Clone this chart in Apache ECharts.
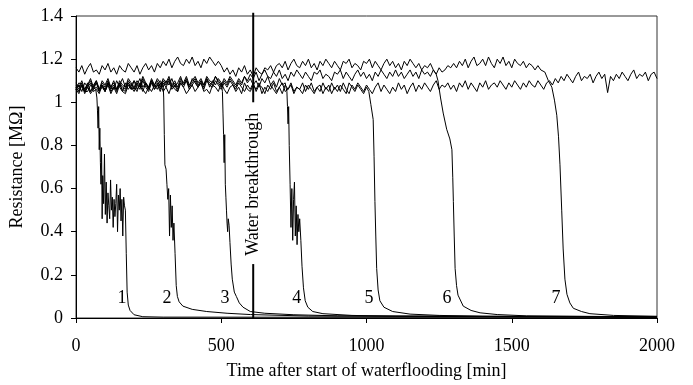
<!DOCTYPE html>
<html>
<head>
<meta charset="utf-8">
<script src="https://cdn.jsdelivr.net/npm/echarts@6/dist/echarts.min.js"></script>
<style>
  html, body { margin: 0; padding: 0; background: #fff; }
  #chart { width: 693px; height: 385px; }
</style>
</head>
<body>
<div id="chart"></div>
<script>
// sampling step of the plateau readings, minutes
const stepMin = 10;

// plateau readings [MΩ] from t = 0 every stepMin, then the drop as [min, MΩ]
const plateau1 = [1.06,1.09,1.08,1.05,1.05,1.08,1.07];
const drop1 = [[68,1.06],[72,1.02],[74,0.96],[76,0.88],[78,0.98],[80,0.78],[82,0.88],[84,0.72],[86,0.62],[88,0.79],[90,0.46],[92,0.66],[95,0.53],[98,0.76],[101,0.48],[104,0.63],[107,0.44],[110,0.58],[113,0.52],[116,0.46],[119,0.64],[122,0.5],[125,0.56],[128,0.42],[131,0.55],[134,0.47],[137,0.53],[140,0.62],[143,0.4],[146,0.57],[149,0.5],[152,0.6],[155,0.45],[158,0.55],[161,0.38],[164,0.56],[167,0.52],[170,0.5],[173,0.3],[176,0.12],[180,0.06],[186,0.035],[200,0.015],[230,0.006],[300,0.004],[2000,0.003]];

const plateau2 = [1.07,1.05,1.08,1.06,1.09,1.05,1.07,1.10,1.06,1.08,
                  1.05,1.09,1.07,1.06,1.10,1.07,1.05,1.09,1.06,1.08,
                  1.10,1.06,1.08,1.05,1.09,1.07,1.10,1.06,1.08,1.10,
                  1.08];
const drop2 = [[302,1.02],[304,0.85],[306,0.71],[310,0.69],[313,0.62],[316,0.55],[319,0.6],[322,0.38],[325,0.57],[328,0.42],[331,0.52],[334,0.36],[337,0.44],[341,0.3],[345,0.15],[349,0.1],[355,0.075],[368,0.055],[400,0.04],[450,0.03],[520,0.022],[600,0.016],[800,0.009],[2000,0.005]];

const plateau3 = [1.06,1.08,1.05,1.09,1.07,1.05,1.08,1.10,1.06,1.08,
                  1.05,1.09,1.07,1.10,1.06,1.08,1.11,1.07,1.09,1.06,
                  1.10,1.08,1.11,1.07,1.09,1.06,1.10,1.08,1.11,1.09,
                  1.07,1.10,1.08,1.11,1.07,1.09,1.12,1.08,1.10,1.07,
                  1.11,1.09,1.07,1.10,1.08,1.11,1.07,1.10,1.08,1.11,
                  1.09];
const drop3 = [[504,1.05],[506,0.95],[508,0.85],[510,0.72],[512,0.85],[514,0.62],[516,0.56],[518,0.5],[520,0.44],[522,0.4],[524,0.46],[527,0.43],[530,0.35],[534,0.25],[538,0.18],[545,0.12],[552,0.1],[562,0.07],[575,0.05],[600,0.03],[650,0.022],[750,0.015],[900,0.01],[2000,0.006]];

const plateau4 = [1.08,1.06,1.09,1.05,1.08,1.10,1.06,1.07,1.05,1.09,
                  1.07,1.10,1.06,1.08,1.05,1.09,1.07,1.06,1.10,1.08,
                  1.06,1.09,1.07,1.11,1.08,1.06,1.10,1.07,1.09,1.06,
                  1.10,1.08,1.11,1.07,1.09,1.06,1.10,1.08,1.11,1.07,
                  1.09,1.11,1.08,1.10,1.07,1.11,1.09,1.08,1.12,1.09,
                  1.07,1.10,1.08,1.11,1.09,1.07,1.10,1.08,1.12,1.09,
                  1.11,1.08,1.10,1.07,1.11,1.09,1.12,1.08,1.10,1.07,
                  1.11,1.08,1.09];
const drop4 = [[726,1.05],[728,0.98],[730,0.9],[732,0.98],[734,0.8],[737,0.62],[740,0.42],[743,0.6],[746,0.36],[749,0.55],[752,0.63],[755,0.38],[758,0.52],[761,0.34],[764,0.48],[767,0.4],[770,0.46],[774,0.36],[778,0.24],[783,0.14],[789,0.08],[798,0.05],[815,0.03],[850,0.02],[950,0.012],[1100,0.008],[2000,0.005]];

const plateau5 = [1.06,1.04,1.08,1.05,1.07,1.04,1.06,1.09,1.05,1.07,
                  1.05,1.08,1.04,1.07,1.06,1.09,1.05,1.04,1.08,1.06,
                  1.07,1.05,1.09,1.06,1.04,1.07,1.05,1.08,1.06,1.09,
                  1.05,1.07,1.04,1.08,1.06,1.05,1.09,1.07,1.04,1.06,
                  1.08,1.05,1.07,1.09,1.05,1.06,1.04,1.08,1.07,1.05,
                  1.09,1.06,1.04,1.07,1.08,1.05,1.07,1.04,1.09,1.06,
                  1.05,1.08,1.06,1.09,1.04,1.07,1.05,1.08,1.06,1.04,
                  1.07,1.09,1.05,1.06,1.08,1.04,1.07,1.06,1.09,1.05,
                  1.08,1.06,1.04,1.07,1.05,1.09,1.06,1.08,1.04,1.07,
                  1.05,1.08,1.06,1.04,1.09,1.07,1.05,1.08,1.06,1.04,
                  1.07];
const drop5 = [[1008,1.05],[1015,0.99],[1023,0.92],[1026,0.75],[1029,0.54],[1032,0.38],[1035,0.23],[1040,0.13],[1046,0.08],[1060,0.05],[1090,0.03],[1150,0.018],[1250,0.012],[1400,0.008],[2000,0.005]];

const plateau6 = [1.16,1.14,1.17,1.13,1.16,1.18,1.14,1.15,1.13,1.17,
                  1.15,1.18,1.14,1.16,1.13,1.17,1.15,1.14,1.18,1.16,
                  1.14,1.17,1.13,1.16,1.18,1.15,1.17,1.14,1.18,1.16,
                  1.19,1.17,1.20,1.16,1.19,1.21,1.18,1.17,1.20,1.18,
                  1.21,1.17,1.19,1.16,1.20,1.18,1.21,1.19,1.17,1.19,
                  1.17,1.14,1.16,1.13,1.15,1.12,1.16,1.14,1.17,1.13,
                  1.15,1.12,1.16,1.14,1.13,1.16,1.15,1.17,1.14,1.17,
                  1.18,1.16,1.19,1.15,1.18,1.20,1.17,1.16,1.19,1.17,
                  1.20,1.16,1.18,1.15,1.19,1.17,1.20,1.18,1.16,1.19,
                  1.17,1.15,1.19,1.18,1.20,1.16,1.18,1.17,1.15,1.19,
                  1.18,1.20,1.16,1.19,1.17,1.15,1.18,1.20,1.17,1.19,
                  1.16,1.18,1.15,1.19,1.17,1.20,1.18,1.16,1.18,1.15,
                  1.17,1.16,1.18,1.15,1.13];
const drop6 = [[1246,1.1],[1255,1.02],[1264,0.95],[1276,0.875],[1287,0.83],[1294,0.78],[1297,0.65],[1299,0.54],[1302,0.38],[1305,0.23],[1310,0.15],[1315,0.106],[1333,0.055],[1360,0.035],[1391,0.024],[1450,0.016],[1550,0.01],[2000,0.005]];

const plateau7 = [1.09,1.07,1.10,1.06,1.08,1.11,1.07,1.09,1.06,1.10,
                  1.08,1.11,1.07,1.09,1.06,1.10,1.08,1.07,1.11,1.09,
                  1.07,1.10,1.08,1.12,1.09,1.07,1.11,1.08,1.10,1.07,
                  1.11,1.09,1.12,1.08,1.10,1.07,1.11,1.09,1.12,1.08,
                  1.10,1.12,1.09,1.11,1.08,1.12,1.10,1.09,1.12,1.10,
                  1.08,1.11,1.09,1.12,1.10,1.08,1.11,1.09,1.12,1.10,
                  1.13,1.11,1.14,1.10,1.13,1.15,1.12,1.11,1.14,1.12,
                  1.15,1.11,1.13,1.10,1.14,1.12,1.15,1.13,1.11,1.14,
                  1.12,1.10,1.14,1.13,1.15,1.11,1.13,1.12,1.10,1.14,
                  1.13,1.15,1.11,1.14,1.12,1.10,1.13,1.15,1.12,1.14,
                  1.11,1.13,1.10,1.14,1.12,1.15,1.13,1.11,1.14,1.12,
                  1.15,1.12,1.14,1.11,1.13,1.15,1.12,1.14,1.11,1.15,
                  1.13,1.14,1.12,1.15,1.13,1.16,1.14,1.15,1.17,1.16,
                  1.18,1.16,1.19,1.17,1.20,1.16,1.19,1.21,1.17,1.18,
                  1.20,1.17,1.21,1.18,1.16,1.20,1.18,1.21,1.17,1.19,
                  1.16,1.20,1.18,1.17,1.19,1.16,1.18,1.17,1.15,1.17,
                  1.15];
const drop7 = [[1614,1.14],[1626,1.1],[1638,1.07],[1647,1.01],[1655,0.94],[1661,0.84],[1666,0.71],[1672,0.5],[1677,0.32],[1683,0.18],[1690,0.11],[1700,0.07],[1712,0.045],[1740,0.03],[1769,0.02],[1850,0.012],[2000,0.008]];

// reference sensor, no breakthrough within the run
const plateau8 = [1.07,1.05,1.08,1.04,1.07,1.09,1.05,1.06,1.04,1.08,
                  1.06,1.09,1.05,1.07,1.04,1.08,1.06,1.05,1.09,1.07,
                  1.05,1.08,1.06,1.10,1.07,1.05,1.09,1.06,1.08,1.05,
                  1.09,1.07,1.10,1.06,1.08,1.05,1.09,1.07,1.10,1.06,
                  1.08,1.10,1.07,1.09,1.06,1.10,1.08,1.07,1.10,1.08,
                  1.06,1.09,1.07,1.10,1.08,1.06,1.09,1.07,1.05,1.08,
                  1.06,1.09,1.05,1.08,1.07,1.04,1.08,1.06,1.09,1.05,
                  1.07,1.04,1.08,1.06,1.09,1.05,1.07,1.06,1.04,1.08,
                  1.06,1.09,1.05,1.07,1.08,1.04,1.07,1.05,1.09,1.06,
                  1.08,1.05,1.09,1.06,1.04,1.08,1.06,1.09,1.07,1.05,
                  1.08,1.06,1.04,1.07,1.09,1.05,1.08,1.06,1.04,1.07,
                  1.05,1.09,1.06,1.08,1.04,1.07,1.09,1.05,1.08,1.06,
                  1.09,1.07,1.05,1.08,1.10,1.06,1.08,1.07,1.09,1.06,
                  1.08,1.05,1.09,1.07,1.10,1.06,1.09,1.07,1.05,1.09,
                  1.07,1.10,1.06,1.08,1.09,1.07,1.10,1.08,1.06,1.09,
                  1.07,1.10,1.08,1.06,1.09,1.07,1.10,1.08,1.07,1.10,
                  1.08,1.06,1.09,1.10,1.08,
                  1.11,1.09,1.12,1.10,1.13,1.11,1.09,1.12,1.14,1.10,
                  1.12,1.11,1.13,1.09,1.12,1.14,1.11,1.13,1.045,1.12,
                  1.10,1.13,1.11,1.14,1.12,1.10,1.13,1.15,1.11,1.13,
                  1.12,1.14,1.10,1.13,1.14,1.11];
const drop8 = [];

const curveNames = ['1', '2', '3', '4', '5', '6', '7'];
const curveLabelMin = [158, 313, 513, 760, 1009, 1277, 1652];
const curveLabelValue = 0.092;

const breakthroughMin = 610;
const breakthroughText = 'Water breakthrough';

const xTicks = [0, 500, 1000, 1500, 2000];
const yTicks = [0, 0.2, 0.4, 0.6, 0.8, 1, 1.2, 1.4];

function build(plateau, drop) {
  return plateau.map((v, i) => [i * stepMin, v]).concat(drop);
}

const curves = [
  build(plateau1, drop1), build(plateau2, drop2), build(plateau3, drop3),
  build(plateau4, drop4), build(plateau5, drop5), build(plateau6, drop6),
  build(plateau7, drop7), build(plateau8, drop8)
];

const font = '"Liberation Serif", "Times New Roman", serif';
const chart = echarts.init(document.getElementById('chart'), null, {renderer: 'canvas'});

const series = curves.map((d, i) => ({
  type: 'line',
  name: 'c' + (i + 1),
  data: d,
  showSymbol: false,
  symbol: 'none',
  lineStyle: {color: '#000', width: 1},
  silent: true
}));

series.push({
  type: 'line',
  data: [[breakthroughMin, 1.415], [breakthroughMin, 1.0]],
  symbol: 'none',
  clip: false,
  lineStyle: {color: '#000', width: 2},
  silent: true
});
series.push({
  type: 'line',
  data: [[breakthroughMin, 0.25], [breakthroughMin, 0]],
  symbol: 'none',
  lineStyle: {color: '#000', width: 2},
  silent: true
});

// text marks: invisible points carrying a label (scatter default opacity is 0.8, so reset it)
const textItem = {color: '#000', opacity: 1};
series.push({
  type: 'scatter',
  data: [[breakthroughMin, 0.62]],
  symbolSize: 0,
  itemStyle: textItem,
  label: {
    show: true, position: 'inside', rotate: 90,
    formatter: breakthroughText,
    fontFamily: font, fontSize: 18, color: '#000', textBorderWidth: 0
  },
  silent: true
});
series.push({
  type: 'scatter',
  data: curveLabelMin.map((t, i) => ({value: [t, curveLabelValue], name: curveNames[i]})),
  symbolSize: 0,
  itemStyle: textItem,
  label: {
    show: true, position: 'inside',
    formatter: p => p.name,
    fontFamily: font, fontSize: 18, color: '#000', textBorderWidth: 0
  },
  silent: true
});

chart.setOption({
  animation: false,
  backgroundColor: '#fff',
  grid: {left: 76, right: 36, top: 16, bottom: 65, show: true, borderColor: '#333', borderWidth: 1},
  xAxis: {
    type: 'value', min: xTicks[0], max: xTicks[xTicks.length - 1], interval: 500,
    name: 'Time after start of waterflooding [min]',
    nameLocation: 'middle', nameGap: 44,
    nameTextStyle: {fontFamily: font, fontSize: 18, color: '#000'},
    axisLine: {lineStyle: {color: '#000', width: 1}},
    axisTick: {show: true, inside: false, length: 5, lineStyle: {color: '#000'}},
    axisLabel: {fontFamily: font, fontSize: 18, color: '#000', margin: 19, formatter: v => String(v)},
    splitLine: {show: false}
  },
  yAxis: {
    type: 'value', min: yTicks[0], max: yTicks[yTicks.length - 1], interval: 0.2,
    name: 'Resistance [MΩ]',
    nameLocation: 'middle', nameGap: 50,
    nameTextStyle: {fontFamily: font, fontSize: 18, color: '#000'},
    axisLine: {show: true, lineStyle: {color: '#000', width: 1}},
    axisTick: {show: true, inside: false, length: 5, lineStyle: {color: '#000'}},
    axisLabel: {fontFamily: font, fontSize: 18, color: '#000', margin: 13},
    splitLine: {show: false}
  },
  series: series
});
</script>
</body>
</html>
